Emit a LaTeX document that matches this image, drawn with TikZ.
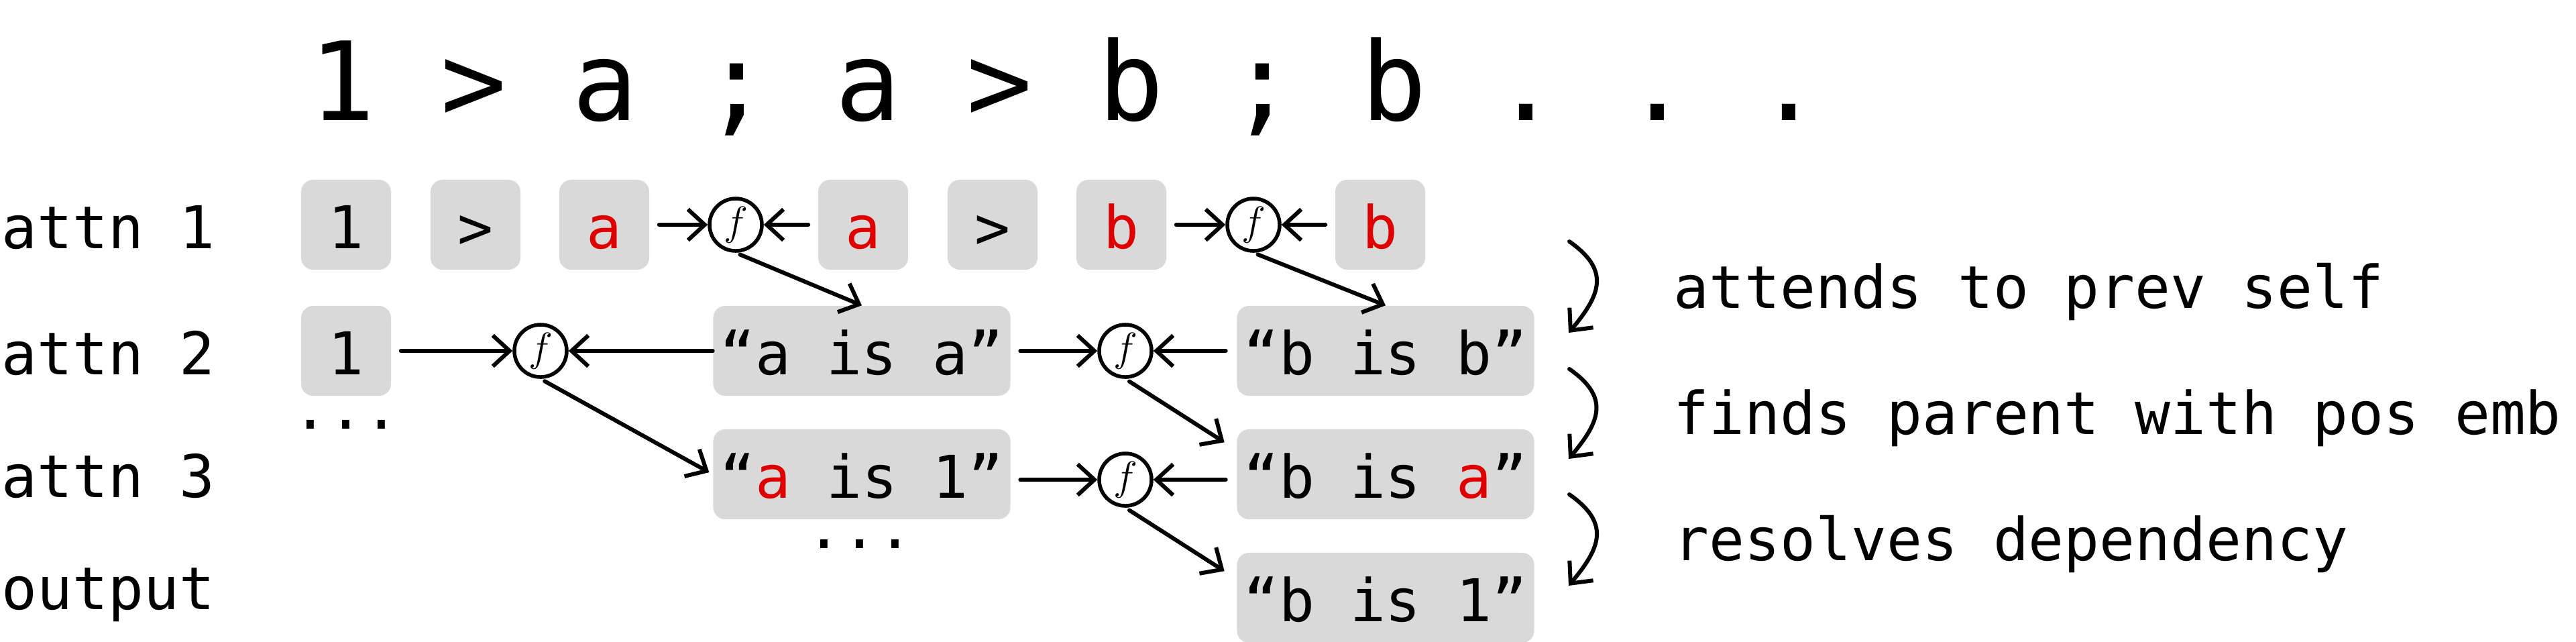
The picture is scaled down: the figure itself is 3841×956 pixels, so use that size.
\documentclass[tikz,border=0pt]{standalone}
\usepackage{fontspec}
\newfontfamily\mono{DejaVu Sans Mono}
\usetikzlibrary{arrows.meta,calc}
\definecolor{boxgray}{RGB}{217,217,217}
\definecolor{tokred}{RGB}{222,0,0}
\frenchspacing
\begin{document}
\begin{tikzpicture}[x=0.01cm,y=0.01cm,
  tok/.style={fill=boxgray,rounded corners=0.18cm,inner sep=0pt,minimum width=1.34cm,minimum height=1.34cm,
    text height=0.8cm,text depth=0.1cm,font=\mono\fontsize{25}{30}\selectfont},
  wide/.style={tok,minimum width=4.43cm},
  fn/.style={circle,draw,line width=0.055cm,inner sep=0pt,minimum size=0.78cm,font=\fontsize{19}{22}\selectfont},
  lbl/.style={anchor=base west,inner sep=0pt,font=\mono\fontsize{25}{30}\selectfont},
  arr/.style={line width=0.06cm,line cap=round,-{Straight Barb[length=0.25cm,width=0.46cm]}},
  gapst/.style={shorten <=0.14cm}
]
\useasboundingbox (0,0) rectangle (3841,-956);
% title
\node[anchor=base west,inner sep=0pt,font=\mono\fontsize{46.3}{50}\selectfont\frenchspacing] (title) at (461,-179) {1 > a ; a > b ; b . . .};
% left labels
\node[lbl] (l1) at (2,-370) {attn 1};
\node[lbl] (l2) at (2,-558) {attn 2};
\node[lbl] (l3) at (2,-741) {attn 3};
\node[lbl] (l4) at (2,-908) {output};
% right labels
\node[lbl] (r1) at (2495,-459) {attends to prev self};
\node[lbl] (r2) at (2495,-647) {finds parent with pos emb};
\node[lbl] (r3) at (2495,-835) {resolves dependency};
% row 1
\node[tok] (t1) at (516,-335) {1};
\node[tok] (t2) at (709,-335) {>};
\node[tok] (t3) at (901,-335) {\color{tokred}a};
\node[fn]  (f1) at (1097,-335) {$f$};
\node[tok] (t4) at (1287,-335) {\color{tokred}a};
\node[tok] (t5) at (1480,-335) {>};
\node[tok] (t6) at (1672,-335) {\color{tokred}b};
\node[fn]  (f2) at (1869,-335) {$f$};
\node[tok] (t7) at (2058,-335) {\color{tokred}b};
% row 2
\node[tok]  (u1)   at (516,-523) {1};
\node[fn]   (f3)   at (806,-523) {$f$};
\node[wide] (aisa) at (1285,-523) {“a is a”};
\node[fn]   (f4)   at (1678,-523) {$f$};
\node[wide] (bisb) at (2066,-523) {“b is b”};
\node[lbl,anchor=base] (d1) at (516,-639) {...};
% row 3
\node[wide] (ais1) at (1285,-707) {“{\color{tokred}a} is 1”};
\node[fn]   (f5)   at (1678,-715) {$f$};
\node[wide] (bisa) at (2066,-707) {“b is {\color{tokred}a}”};
\node[lbl,anchor=base] (d2) at (1282,-817) {...};
% row 4
\node[wide] (bis1) at (2066,-891) {“b is 1”};
% row 1 arrows
\draw[arr,gapst] (t3) -- (f1);
\draw[arr,gapst] (t4) -- (f1);
\draw[arr,gapst] (t6) -- (f2);
\draw[arr,gapst] (t7) -- (f2);
\draw[arr,shorten <=0.07cm] (f1.south) -- (aisa.north);
\draw[arr,shorten <=0.07cm] (f2.south) -- (bisb.north);
% row 2 arrows
\draw[arr,gapst] (u1) -- (f3);
\draw[arr] (aisa) -- (f3);
\draw[arr,gapst] (aisa) -- (f4);
\draw[arr,shorten <=0.16cm] (bisb) -- (f4);
\draw[arr,shorten <=0.07cm,shorten >=0.06cm] (f3.south) -- (ais1.west);
\draw[arr,shorten <=0.07cm] (f4.south) -- ([xshift=-0.18cm,yshift=-0.2cm]bisa.north west);
% row 3 arrows
\draw[arr,gapst] (ais1.east |- f5) -- (f5);
\draw[arr,shorten <=0.16cm] (bisa.west |- f5) -- (f5);
\draw[arr,shorten <=0.07cm] (f5.south) -- ([xshift=-0.18cm,yshift=-0.28cm]bis1.north west);
% curved arrows
\coordinate (c1a) at (2340,-360);
\coordinate (c1b) at (2339,-496);
\coordinate (c2a) at (2340,-550);
\coordinate (c2b) at (2339,-684);
\coordinate (c3a) at (2340,-737);
\coordinate (c3b) at (2339,-873);
\draw[arr] (c1a) to[out=-35,in=50,looseness=1.4] (c1b);
\draw[arr] (c2a) to[out=-35,in=50,looseness=1.4] (c2b);
\draw[arr] (c3a) to[out=-35,in=50,looseness=1.4] (c3b);
\end{tikzpicture}
\end{document}
